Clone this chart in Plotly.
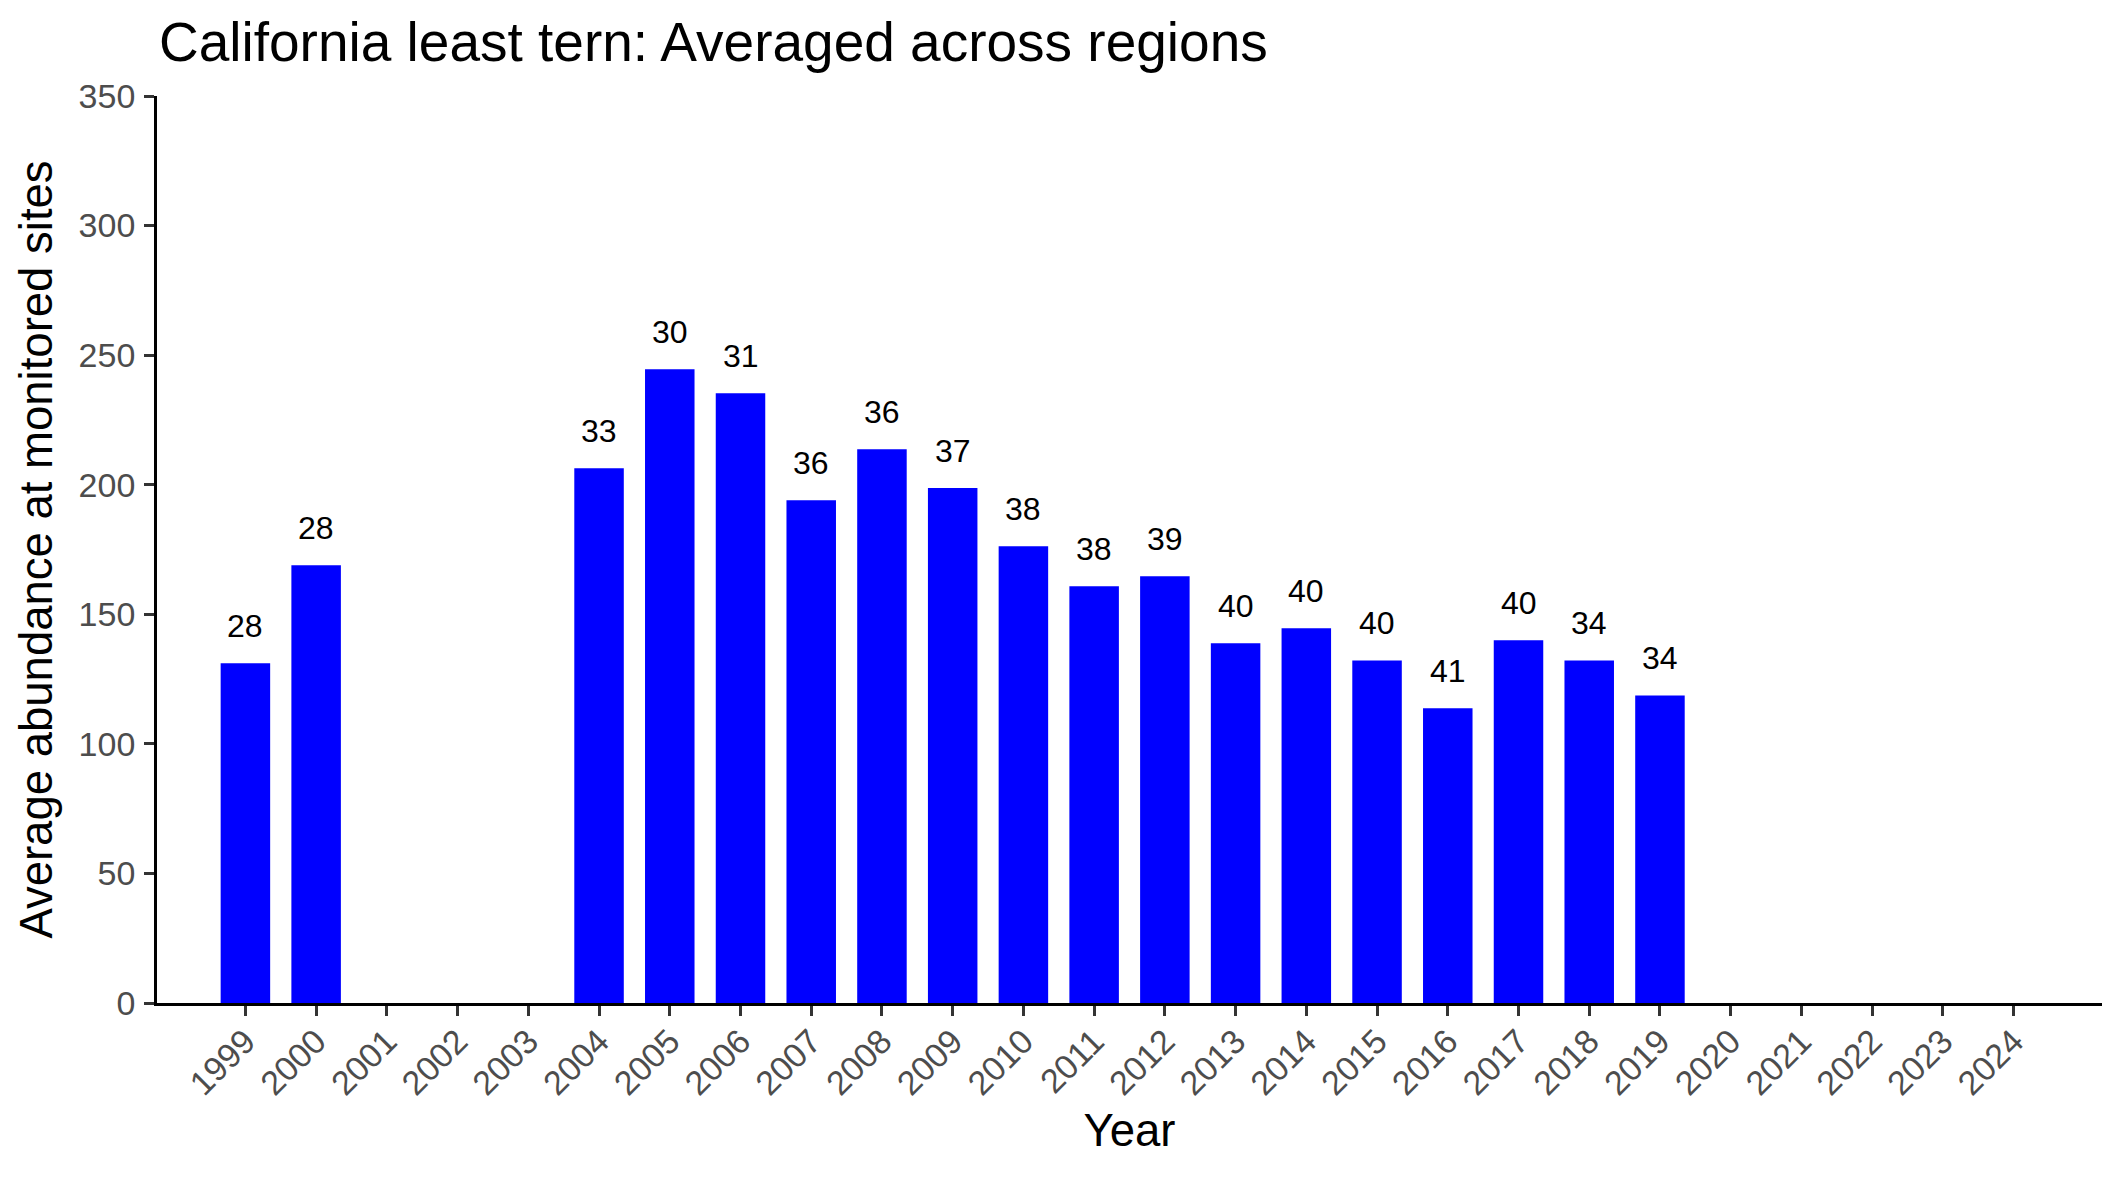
import plotly.graph_objects as go

years = list(range(1999, 2025))
abundance = [131.1, 168.9, None, None, None, 206.4, 244.6, 235.3, 194.0, 213.7,
             198.7, 176.3, 160.8, 164.7, 138.8, 144.6, 132.2, 113.7, 140.0, 132.2,
             118.7, None, None, None, None, None]
site_counts = [28, 28, None, None, None, 33, 30, 31, 36, 36,
               37, 38, 38, 39, 40, 40, 40, 41, 40, 34,
               34, None, None, None, None, None]
y_ticks = [0, 50, 100, 150, 200, 250, 300, 350]

FONT = "Liberation Sans, Arial, sans-serif"

fig = go.Figure()
fig.add_trace(go.Bar(
    x=years, y=abundance, width=0.7,
    marker=dict(color="#0000FF", line=dict(width=0)),
    hoverinfo="x+y",
))

annotations = []
for yr, v, n in zip(years, abundance, site_counts):
    if v is None:
        continue
    annotations.append(dict(
        x=yr, y=v, xref="x", yref="y", text=str(n), showarrow=False,
        xanchor="center", yanchor="bottom", yshift=17,
        font=dict(family=FONT, size=32, color="#000000"),
    ))

fig.update_layout(
    width=2125, height=1181,
    margin=dict(l=157, r=23, t=96, b=178, pad=0),
    paper_bgcolor="white", plot_bgcolor="white",
    showlegend=False,
    annotations=annotations,
    title=dict(
        text="California least tern: Averaged across regions",
        font=dict(family=FONT, size=55, color="#000000"),
        xref="container", yref="container",
        x=159 / 2125, xanchor="left",
        y=1 - 61 / 1181, yanchor="bottom",
    ),
    xaxis=dict(
        range=[1997.75, 2025.25],
        tickmode="array", tickvals=years, ticktext=[str(y) for y in years],
        tickangle=-45,
        showgrid=False, zeroline=False,
        showline=True, linecolor="#000000", linewidth=2.7,
        ticks="outside", ticklen=10, tickwidth=2.7, tickcolor="#333333",
        ticklabelstandoff=-8,
        tickfont=dict(family=FONT, size=34, color="#4D4D4D"),
        title=dict(text="Year", font=dict(family=FONT, size=45.5, color="#000000"), standoff=14),
    ),
    yaxis=dict(
        range=[0, 350],
        tickmode="array", tickvals=y_ticks, ticktext=[str(t) for t in y_ticks],
        showgrid=False, zeroline=False,
        showline=True, linecolor="#000000", linewidth=2.7,
        ticks="outside", ticklen=10, tickwidth=2.7, tickcolor="#333333",
        ticklabelstandoff=2,
        tickfont=dict(family=FONT, size=34, color="#4D4D4D"),
        title=dict(text="Average abundance at monitored sites",
                   font=dict(family=FONT, size=45.5, color="#000000"), standoff=12),
    ),
)

fig.write_html("out.html")
